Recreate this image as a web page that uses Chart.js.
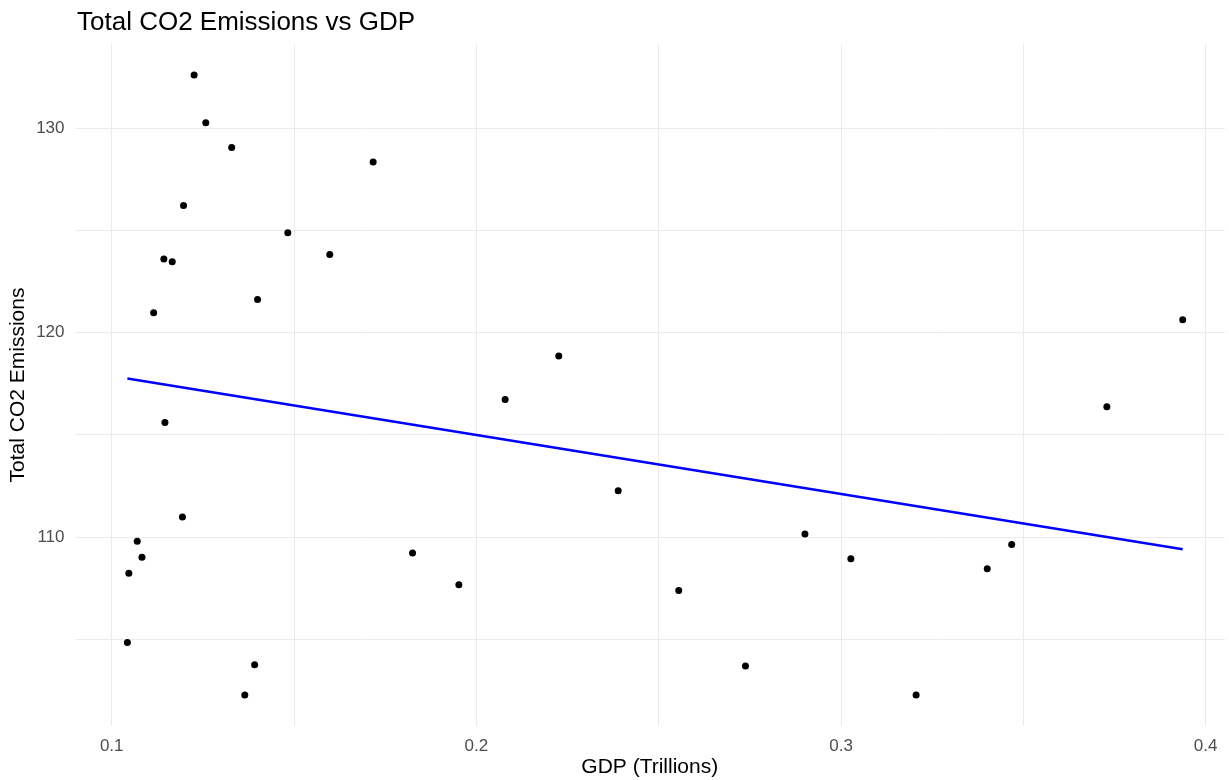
<!DOCTYPE html>
<html>
<head>
<meta charset="utf-8">
<title>Total CO2 Emissions vs GDP</title>
<script src="https://cdn.jsdelivr.net/npm/chart.js@4.4.1/dist/chart.umd.min.js"></script>
<style>
    html, body { margin: 0; padding: 0; background: #ffffff; overflow: hidden; }
    #chartWrap { position: relative; width: 1229px; height: 780px; }
</style>
</head>
<body>
<div id="chartWrap"><canvas id="co2Chart"></canvas></div>
<script>
// GDP in trillions, one entry per observation
var gdpValues = [0.1226, 0.1258, 0.1329, 0.1717, 0.1197, 0.1483, 0.1143, 0.1166, 0.1598, 0.1400, 0.1115,
    0.3937, 0.2226, 0.2079, 0.3729, 0.1146, 0.2389, 0.1194, 0.2901, 0.3468, 0.1070, 0.1825,
    0.1083, 0.3027, 0.1047, 0.3401, 0.1952, 0.2555, 0.1043, 0.1392, 0.2738, 0.1365, 0.3206];

// Total CO2 emissions, same order as gdpValues
var co2Values = [132.61, 130.28, 129.07, 128.36, 126.23, 124.89, 123.61, 123.48, 123.83, 121.63, 120.98,
    120.64, 118.86, 116.74, 116.38, 115.61, 112.27, 110.99, 110.15, 109.64, 109.80, 109.23,
    109.02, 108.94, 108.24, 108.45, 107.67, 107.39, 104.84, 103.76, 103.70, 102.28, 102.28];

// Fitted line end points
var trendGdp = [0.1043, 0.3937];
var trendCo2 = [117.76, 109.41];

// Tick labels that get text (other grid lines stay unlabelled)
var xTickLabels = [0.1, 0.2, 0.3, 0.4];
var yTickLabels = [110, 120, 130];

var fontFamily = "'Liberation Sans', Arial, sans-serif";

function toPoints(xs, ys) {
    var points = [];
    for (let i = 0; i < xs.length; i++) {
        points.push({ x: xs[i], y: ys[i] });
    }
    return points;
}

function hasLabel(list, value) {
    return list.some(function (t) { return Math.abs(t - value) < 1e-6; });
}

//Title drawn at the left edge of the panel, like ggplot does.
var plotTitle = {
    id: 'plotTitle',
    afterDraw: function (chart) {
        var ctx = chart.ctx;
        ctx.save();
        ctx.font = '26px ' + fontFamily;
        ctx.fillStyle = '#000000';
        ctx.textAlign = 'left';
        ctx.textBaseline = 'alphabetic';
        ctx.fillText('Total CO2 Emissions vs GDP', 77, 30);
        ctx.restore();
    }
};

function initChart() {
    var chartControl = document.getElementById('co2Chart');

    new Chart(chartControl, {
        type: 'scatter',
        data: {
            datasets: [
                {
                    type: 'line',
                    data: toPoints(trendGdp, trendCo2),
                    borderColor: '#0000ff',
                    borderWidth: 2.5,
                    pointRadius: 0,
                    fill: false,
                    order: 0
                },
                {
                    data: toPoints(gdpValues, co2Values),
                    backgroundColor: '#000000',
                    borderColor: '#000000',
                    pointRadius: 3.5,
                    borderWidth: 0,
                    order: 1
                }
            ]
        },
        options: {
            animation: false,
            responsive: true,
            maintainAspectRatio: false,
            events: [],
            layout: {
                padding: { top: 44, left: 6, right: 0, bottom: 0 }
            },
            scales: {
                x: {
                    type: 'linear',
                    min: 0.0898,
                    max: 0.4053,
                    border: { display: false },
                    grid: { color: '#ebebeb', lineWidth: 1, drawTicks: false },
                    ticks: {
                        stepSize: 0.05,
                        includeBounds: false,
                        autoSkip: false,
                        maxRotation: 0,
                        padding: 10,
                        color: '#4d4d4d',
                        font: { family: fontFamily, size: 17 },
                        callback: function (value) {
                            return hasLabel(xTickLabels, value) ? value.toFixed(1) : '';
                        }
                    },
                    title: {
                        display: true,
                        text: 'GDP (Trillions)',
                        color: '#000000',
                        padding: 0,
                        font: { family: fontFamily, size: 21 }
                    },
                    afterFit: function (scale) {
                        scale.height = 54;
                    }
                },
                y: {
                    type: 'linear',
                    min: 100.76,
                    max: 134.13,
                    border: { display: false },
                    grid: { color: '#ebebeb', lineWidth: 1, drawTicks: false },
                    ticks: {
                        stepSize: 5,
                        includeBounds: false,
                        autoSkip: false,
                        padding: 10,
                        color: '#4d4d4d',
                        font: { family: fontFamily, size: 17 },
                        callback: function (value) {
                            return hasLabel(yTickLabels, value) ? String(value) : '';
                        }
                    },
                    title: {
                        display: true,
                        text: 'Total CO2 Emissions',
                        color: '#000000',
                        padding: 0,
                        font: { family: fontFamily, size: 21 }
                    },
                    afterFit: function (scale) {
                        scale.width = 68.5;
                    }
                }
            },
            plugins: {
                legend: { display: false },
                tooltip: { enabled: false },
                title: { display: false }
            }
        },
        plugins: [plotTitle]
    });
}

initChart();
</script>
</body>
</html>
